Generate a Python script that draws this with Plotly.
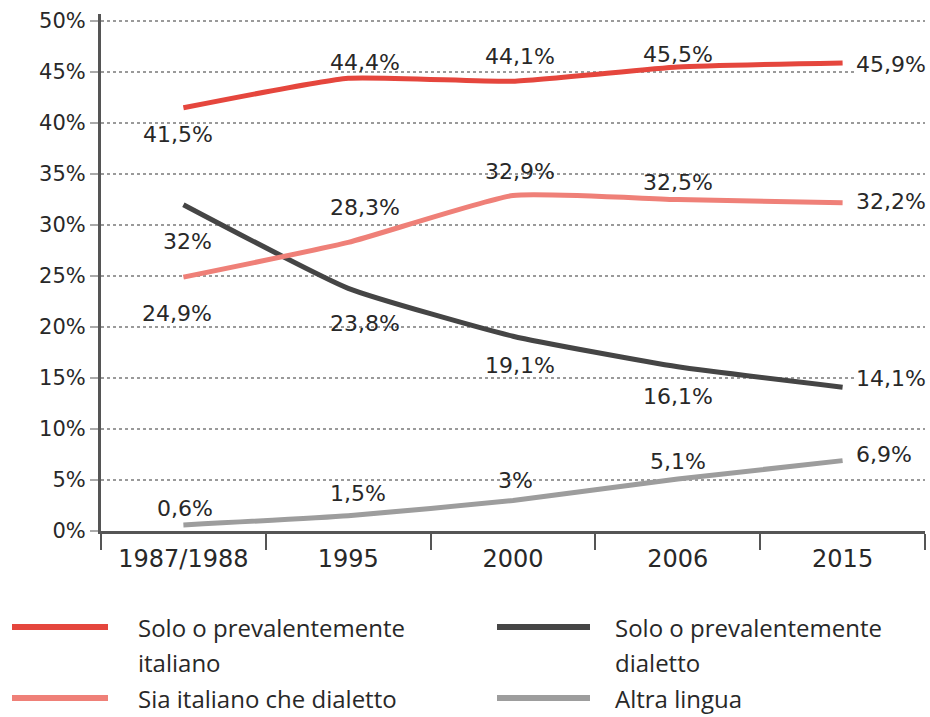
import plotly.graph_objects as go

# ---- data ----
years = ["1987/1988", "1995", "2000", "2006", "2015"]
solo_italiano = [41.5, 44.4, 44.1, 45.5, 45.9]
sia_italiano_dialetto = [24.9, 28.3, 32.9, 32.5, 32.2]
solo_dialetto = [32.0, 23.8, 19.1, 16.1, 14.1]
altra_lingua = [0.6, 1.5, 3.0, 5.1, 6.9]
series_names = ["Solo o prevalentemente<br>italiano", "Sia italiano che dialetto",
                "Solo o prevalentemente<br>dialetto", "Altra lingua"]
y_ticks = [0, 5, 10, 15, 20, 25, 30, 35, 40, 45, 50]
y_tick_text = [f"{v}%" for v in y_ticks]

# ---- style ----
colors = ["#e5463d", "#ef8078", "#454545", "#9d9d9d"]
FONT = "DejaVu Sans, sans-serif"
LFONT = "Open Sans, sans-serif"
TXT = "#282828"

# label placement per series (dx, dy in px; anchor)
label_pos = [
    [(-5, -27, "center"), (17, 16, "center"), (7, 25, "center"), (0, 13, "center"), (12, -2, "left")],
    [(-6, -36, "center"), (17, 35, "center"), (7, 24, "center"), (0, 17, "center"), (12, 1, "left")],
    [(4, -37, "center"), (17, -35, "center"), (7, -29, "center"), (0, -30, "center"), (12, 9, "left")],
    [(2, 16, "center"), (10, 22, "center"), (2, 20, "center"), (0, 17, "center"), (12, 6, "left")],
]

def fmt(v):
    s = f"{v:.1f}".rstrip("0").rstrip(".")
    return s.replace(".", ",") + "%"

all_series = [solo_italiano, sia_italiano_dialetto, solo_dialetto, altra_lingua]
fig = go.Figure()
draw_order = [3, 2, 1, 0]
for i in draw_order:
    fig.add_trace(go.Scatter(
        x=years, y=all_series[i], mode="lines",
        line=dict(color=colors[i], width=5, shape="spline", smoothing=0.45),
        name=series_names[i].replace("<br>", " "), showlegend=False, hoverinfo="skip"))

annotations = []
for i, vals in enumerate(all_series):
    for j, v in enumerate(vals):
        dx, dy, anc = label_pos[i][j]
        annotations.append(dict(
            x=j, y=v, xref="x", yref="y", text=fmt(v), showarrow=False,
            xanchor=anc, yanchor="middle", xshift=dx, yshift=dy,
            bgcolor="white" if anc == "left" else "rgba(0,0,0,0)", borderpad=0,
            font=dict(family=FONT, size=22, color=TXT)))

# ---- custom legend ----
W, H = 930, 717
L, R, T, B = 101, 5, 14, 186
pw, ph = W - L - R, H - T - B
def px(x): return (x - L) / pw
def py(y): return (H - B - y) / ph

legend_items = [
    (0, 12, 108, 136, 627),
    (2, 497, 590, 613, 627),
    (1, 12, 108, 136, 698),
    (3, 497, 590, 613, 698),
]
shapes = []
for idx, x0, x1, tx, y in legend_items:
    shapes.append(dict(type="line", xref="paper", yref="paper",
                       x0=px(x0), x1=px(x1), y0=py(y), y1=py(y),
                       line=dict(color=colors[idx], width=6)))
    for k, part in enumerate(series_names[idx].split("<br>")):
        annotations.append(dict(x=px(tx), y=py(y + 35 * k), xref="paper", yref="paper",
                                text=part, showarrow=False,
                                xanchor="left", yanchor="middle", align="left",
                                font=dict(family=LFONT, size=24, color=TXT)))

fig.update_layout(
    width=W, height=H, margin=dict(l=L, r=R, t=T, b=B),
    paper_bgcolor="white", plot_bgcolor="white",
    showlegend=False, annotations=annotations, shapes=shapes,
    xaxis=dict(type="category", range=[-0.5, 4.5], showgrid=False,
               showline=True, linecolor="#555555", linewidth=3,
               ticks="outside", tickson="boundaries", ticklen=16, tickwidth=2,
               tickcolor="#555555", ticklabelstandoff=4,
               tickfont=dict(family=FONT, size=24, color=TXT)),
    yaxis=dict(range=[0, 50.7], tickvals=y_ticks, ticktext=y_tick_text,
               showgrid=True, gridcolor="#9a9a9a", gridwidth=1.5, griddash="dot",
               showline=True, linecolor="#555555", linewidth=3,
               ticks="outside", ticklen=8, tickcolor="#aaaaaa", tickwidth=1.5,
               zeroline=False,
               tickfont=dict(family=FONT, size=21, color=TXT)),
)

fig.write_html("out.html")
